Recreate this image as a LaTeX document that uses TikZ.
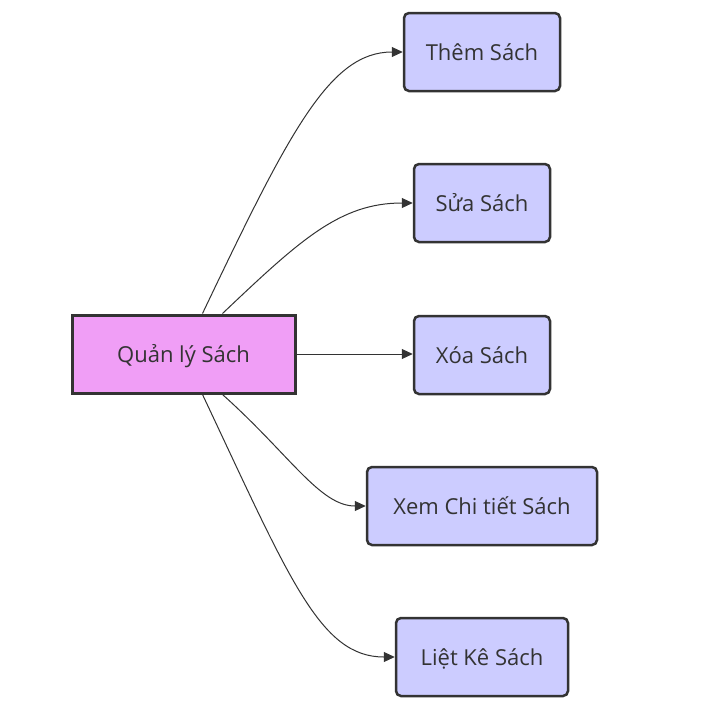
\documentclass[tikz,border=0pt]{standalone}
\usepackage{fontspec}
\setmainfont{Open Sans}
\usetikzlibrary{arrows.meta}
\definecolor{mainfill}{HTML}{F09EF6}
\definecolor{subfill}{HTML}{CCCCFF}
\definecolor{ink}{HTML}{333333}
\tikzset{
  box/.style={draw=ink, text=ink, line width=2.5pt, minimum height=78pt, inner sep=0pt, text height=18.5pt, text depth=1.5pt, font=\fontsize{22}{26}\selectfont},
  mainbox/.style={box, fill=mainfill, line width=3pt},
  subbox/.style={box, fill=subfill, rounded corners=5pt},
  link/.style={draw=ink, line width=1pt, -{Triangle[length=11pt,width=10pt]}}
}
\begin{document}
\begin{tikzpicture}[x=1pt,y=-1pt]
\useasboundingbox (0,0) rectangle (712,718);
\node[mainbox, minimum width=223pt] (main) at (183.5,354) {Quản lý Sách};
\node[subbox, minimum width=156pt] (a) at (482,52) {Thêm Sách};
\node[subbox, minimum width=136pt] (b) at (482,203) {Sửa Sách};
\node[subbox, minimum width=136pt] (c) at (482,355) {Xóa Sách};
\node[subbox, minimum width=230pt] (d) at (482,506) {Xem Chi tiết Sách};
\node[subbox, minimum width=172pt] (e) at (482,657) {Liệt Kê Sách};
\coordinate (m1) at ([xshift=19pt]main.north);
\coordinate (m2) at ([xshift=39pt]main.north);
\coordinate (m4) at ([xshift=39pt]main.south);
\coordinate (m5) at ([xshift=19pt]main.south);
\draw[link] (m1) .. controls (290,130) and (330,52) .. (a.west);
\draw[link] (m2) .. controls (300,240) and (340,203) .. (b.west);
\draw[link] (main.east) -- (main.east -| c.west);
\draw[link] (m4) .. controls (290,455) and (320,506) .. (d.west);
\draw[link] (m5) .. controls (290,580) and (320,657) .. (e.west);
\end{tikzpicture}
\end{document}
